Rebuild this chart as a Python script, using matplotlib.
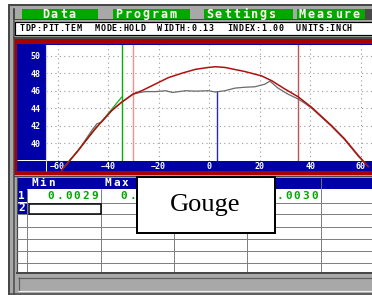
import matplotlib
matplotlib.use("Agg")
import matplotlib.pyplot as plt
from matplotlib.patches import Rectangle

# profile data
red_x = [-58.4, -51.8, -45.2, -38.6, -34.7, -30.1, -26.7, -16.2, -10.9, -5.5, -0.4,
         2.5, 6.2, 14.1, 20.7, 24.7, 29.9, 35.2, 40.5, 48.4, 53.5, 58.9, 62.9]
red_v = [36.9, 39.16, 41.63, 43.72, 44.68, 45.63, 46.0, 47.5, 48.0, 48.45, 48.67,
         48.75, 48.67, 48.2, 47.7, 47.15, 46.2, 45.3, 44.1, 42.0, 40.5, 38.6, 37.3]

gray_x = [-58.4, -51.8, -46.5, -44.5, -42.6, -38.6, -34.7, -30.1, -27.5, -25.2,
          -21.2, -17.2, -14.6, -12.0, -9.3, -5.4, -0.4, 2.4, 6.2, 10.2, 14.1, 18.0, 22.0,
          24.0, 27.2, 31.2, 35.2, 37.8, 40.5, 48.4, 53.5, 58.9, 62.9]
gray_v = [36.9, 39.16, 41.44, 42.2, 42.4, 43.72, 44.68, 45.6, 45.8, 45.9,
          45.9, 46.0, 45.8, 45.9, 46.0, 45.95, 46.0, 45.85, 46.0, 46.3, 46.4, 46.45, 46.75,
          47.1, 46.3, 45.6, 45.05, 44.56, 44.0, 41.9, 40.4, 38.5, 37.3]

fit_x = [-58.4, -34.7]
fit_v = [36.9, 45.25]

green_cursor = -34.7
pink_cursor = -30.1
red_cursor = 35.0
blue_cursor = 2.9
blue_top = 46.0

x_ticks = [-60, -40, -20, 0, 20, 40, 60]
y_ticks = [40, 42, 44, 46, 48, 50]

menu_items = ["Data", "Program", "Settings", "Measure"]
menu_x = [41, 114.3, 205, 297.7]
status_items = ["TDP:PIT.TEM", "MODE:HOLD", "WIDTH:0.13", "INDEX:1.00", "UNITS:INCH"]
status_x = [19, 94.3, 156.7, 226.7, 295]

col_headers = ["Min", "Max", "", "", ""]
row1_vals = ["0.0029", "0.0031", "", "0.0030", ""]
row_labels = ["1", "2"]

GREEN = "#00a800"
BLUE = "#0000a8"
RED = "#a80000"
GRAY = "#a8a8a8"
DARK = "#484848"

W, H = 372, 295
fig = plt.figure(figsize=(W / 100, H / 100), dpi=100)
bg = fig.add_axes([0, 0, 1, 1])
bg.set_xlim(0, W)
bg.set_ylim(H, 0)
bg.axis("off")


def box(x0, y0, x1, y1, fc, ec="none", lw=0, z=1):
    bg.add_patch(Rectangle((x0, y0), x1 - x0, y1 - y0, facecolor=fc, edgecolor=ec,
                           linewidth=lw * 0.72, zorder=z))


def hl(y, x0, x1, c, w=1, z=2):
    bg.plot([x0, x1], [y, y], color=c, lw=w * 0.72, zorder=z, solid_capstyle="butt")


def vl(x, y0, y1, c, w=1, z=2):
    bg.plot([x, x], [y0, y1], color=c, lw=w * 0.72, zorder=z, solid_capstyle="butt")


def spaced(x0, y, s, step, size, color, z=3):
    # pixel font look: one glyph per cell
    for i, ch in enumerate(s):
        bg.text(x0 + step * (i + 0.5), y, ch, ha="center", va="center", fontsize=size,
                color=color, family="DejaVu Sans Mono", weight="bold", zorder=z)


# outer frame
box(8, 4, W, H, GRAY)
vl(9, 4, H, DARK, 2)
hl(5, 8, W, DARK, 2)
vl(14, 8, H, DARK, 1.5)
vl(16.5, 177, 272, DARK, 1.2)

# menu bar
box(13, 8.5, W, 19.5, DARK)
box(15, 9, 22, 19, GRAY)
box(22, 9, 98, 19, GREEN)
box(98, 9, 113, 19, GRAY)
box(113, 9, 190, 19, GREEN)
box(190, 9, 204, 19, GRAY)
box(204, 9, 293, 19, GREEN)
box(293, 9, 297, 19, GRAY)
box(297, 9, 365, 19, GREEN)
for item, x in zip(menu_items, menu_x):
    spaced(x, 14, item, 9, 8.5, "#fffff0")

# status line
box(15, 22, W + 2, 35, "white", ec="black", lw=1.2, z=2)
for item, x in zip(status_items, status_x):
    spaced(x, 28.8, item, 5.7, 6, "black")

# chart frame
hl(38, 13, W, DARK, 2)
box(13.5, 39, W, 175, RED)
box(17, 44, W, 171, BLUE, z=1.5)
hl(175.5, 13, W, DARK, 1.2)
hl(160, 17, 46, "white", 1)
vl(46, 160, 171, "white", 1)

ax = fig.add_axes([46 / W, 1 - 160.5 / H, (W - 46) / W, (160.5 - 44.5) / H])
ax.set_facecolor("white")
ax.set_xlim(-64.6, 64.4)
ax.set_ylim(38.0, 51.3)
ax.set_xticks(x_ticks)
ax.set_yticks(y_ticks)
ax.tick_params(length=0, labelsize=6, labelcolor="white")
ax.tick_params(axis="x", pad=1.0)
ax.tick_params(axis="y", pad=4)
for lab in ax.get_xticklabels() + ax.get_yticklabels():
    lab.set_family("DejaVu Sans Mono")
    lab.set_weight("bold")
ax.grid(True, color="#9a9a9a", linestyle=(0, (1, 3)), lw=0.8)
ax.set_axisbelow(True)
for s in ["top", "right", "bottom"]:
    ax.spines[s].set_visible(False)
ax.spines["left"].set_color("#d0d0ff")
ax.spines["left"].set_linewidth(0.8)

ax.axvline(green_cursor, color="#00b000", lw=1.0)
ax.axvline(pink_cursor, color="#ff8c8c", lw=1.0)
ax.axvline(red_cursor, color="#c85050", lw=1.0)
ax.vlines(blue_cursor, 38.0, blue_top, color="#2828c8", lw=1.0)

ax.plot(gray_x, gray_v, color="#6a6a6a", lw=0.9, clip_on=False)
ax.plot(fit_x, fit_v, color="#10b010", lw=0.9, clip_on=False)
ax.plot(red_x, red_v, color="#b01010", lw=1.1, clip_on=False)

# table
box(17, 177.5, W, 272, "white")
box(17, 177.5, W, 188.5, BLUE, z=1.5)
box(17, 189, 27.3, 202, BLUE, z=1.5)
box(17, 203, 27.3, 213.5, BLUE, z=1.5)
for y in [202.5, 214, 226.5, 238.5, 250.5, 262.5]:
    hl(y, 17, W, "#808080", 1)
col_lines = [27.3, 101, 174, 247.3, 321]
for x in col_lines:
    vl(x, 188.5, 272, "#808080", 1)
vl(321, 177.5, 188.5, "#707070", 1)

col_left = [27.3, 101, 174, 247.3, 321]
col_right = [101, 174, 247.3, 321, W]
for h, x in zip(col_headers, col_left):
    spaced(x + 3, 183, h, 8.3, 8, "white")
for v, x in zip(row1_vals, col_right):
    spaced(x - 1.5 - 8.9 * len(v), 196, v, 8.9, 8, GREEN)
for lab, y in zip(row_labels, [196, 208.3]):
    spaced(17.5, y, lab, 8.5, 8, "white")
box(29, 203.5, 100.5, 213.5, "white", ec="black", lw=1.5, z=2.5)

# bottom bar
hl(273, 16, W, DARK, 2)
box(18, 277, W, 291, GRAY, z=1.5)
hl(277.5, 18, W, "#606060", 1.2)
vl(18.5, 277, 291, "#606060", 1.2)
hl(290.5, 18, W, "#f0f0f0", 1.2)
hl(293.5, 8, W, DARK, 1.5)

# overlay label
box(136.7, 177, 275, 232.7, "white", ec="black", lw=2, z=10)
bg.text(205.5, 210.5, "Gouge", ha="center", va="baseline", fontsize=19,
        family="Liberation Serif", color="black", zorder=11)

fig.savefig("out.png", dpi=100)
